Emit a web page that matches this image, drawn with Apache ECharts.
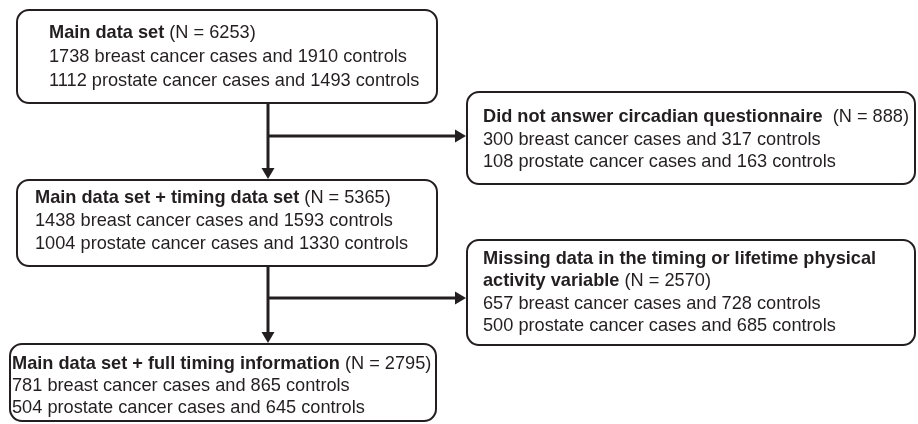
<!DOCTYPE html>
<html>
<head>
<meta charset="utf-8">
<script src="https://cdn.jsdelivr.net/npm/echarts@6/dist/echarts.min.js"></script>
<style>
html,body{margin:0;padding:0;background:#fff;}
#chart{width:918px;height:424px;}
</style>
</head>
<body>
<div id="chart"></div>
<script>
// ---- Data ----
const boxTitles = [
  'Main data set',
  'Did not answer circadian questionnaire',
  'Main data set + timing data set',
  'Missing data in the timing or lifetime physical activity variable',
  'Main data set + full timing information'
];
const totals = [6253, 888, 5365, 2570, 2795];
const breastCases = [1738, 300, 1438, 657, 781];
const breastControls = [1910, 317, 1593, 728, 865];
const prostateCases = [1112, 108, 1004, 500, 504];
const prostateControls = [1493, 163, 1330, 685, 645];

// ---- Layout (positions / styles) ----
const INK = '#231f20';
const FONT = '"Liberation Sans", Arial, Helvetica, sans-serif';
const FS = 18.2;
const layout = [
  {box:[17, 10, 420, 93],  tx:49,  lines:[33, 57, 81]},
  {box:[467, 92, 448, 92], tx:483, lines:[117, 140, 162]},
  {box:[17, 180, 420, 86], tx:35,  lines:[198, 221, 244]},
  {box:[467, 240, 448, 105], tx:483, lines:[259, 281, 304, 326]},
  {box:[10, 344, 426, 77], tx:12,  lines:[364, 386, 408]}
];
const titleWraps = {3: ['Missing data in the timing or lifetime physical', 'activity variable']};
const titleGap = {1: '  '};

const rich = {
  b: {fontWeight: 'bold', fontSize: FS, fontFamily: FONT, fill: INK},
  n: {fontWeight: 'normal', fontSize: FS, fontFamily: FONT, fill: INK}
};

const elements = [];
function textEl(x, y, str) {
  elements.push({
    type: 'text', x: x, y: y, silent: true,
    style: {text: str, rich: rich, font: FS + 'px ' + FONT, fill: INK, verticalAlign: 'middle', align: 'left'}
  });
}

boxTitles.forEach(function (title, i) {
  const L = layout[i];
  elements.push({
    type: 'rect', silent: true,
    shape: {x: L.box[0], y: L.box[1], width: L.box[2], height: L.box[3], r: 12},
    style: {fill: '#fff', stroke: INK, lineWidth: 2}
  });
  const nPart = '{n|' + (titleGap[i] || ' ') + '(N = ' + totals[i] + ')}';
  let li = 0;
  if (titleWraps[i]) {
    const parts = titleWraps[i];
    textEl(L.tx, L.lines[li++], '{b|' + parts[0] + '}');
    textEl(L.tx, L.lines[li++], '{b|' + parts[1] + '}' + nPart);
  } else {
    textEl(L.tx, L.lines[li++], '{b|' + title + '}' + nPart);
  }
  textEl(L.tx, L.lines[li++], '{n|' + breastCases[i] + ' breast cancer cases and ' + breastControls[i] + ' controls}');
  textEl(L.tx, L.lines[li++], '{n|' + prostateCases[i] + ' prostate cancer cases and ' + prostateControls[i] + ' controls}');
});

// connectors
const connectors = [
  {x: 268, y0: 103, y1: 180, yh: 136, xh: 467},
  {x: 268, y0: 266, y1: 344, yh: 298, xh: 467}
];
const AH = 12, AW = 6.5;
connectors.forEach(function (c) {
  elements.push({type: 'line', silent: true, shape: {x1: c.x, y1: c.y0, x2: c.x, y2: c.y1 - AH + 1}, style: {stroke: INK, lineWidth: 3}});
  elements.push({type: 'polygon', silent: true, shape: {points: [[c.x - AW, c.y1 - AH], [c.x + AW, c.y1 - AH], [c.x, c.y1 - 1]]}, style: {fill: INK}});
  elements.push({type: 'line', silent: true, shape: {x1: c.x, y1: c.yh, x2: c.xh - AH + 1, y2: c.yh}, style: {stroke: INK, lineWidth: 3}});
  elements.push({type: 'polygon', silent: true, shape: {points: [[c.xh - AH, c.yh - AW], [c.xh - AH, c.yh + AW], [c.xh - 1, c.yh]]}, style: {fill: INK}});
});

const chart = echarts.init(document.getElementById('chart'), null, {renderer: 'canvas'});
chart.setOption({
  animation: false,
  backgroundColor: '#fff',
  graphic: {elements: elements}
});
</script>
</body>
</html>
